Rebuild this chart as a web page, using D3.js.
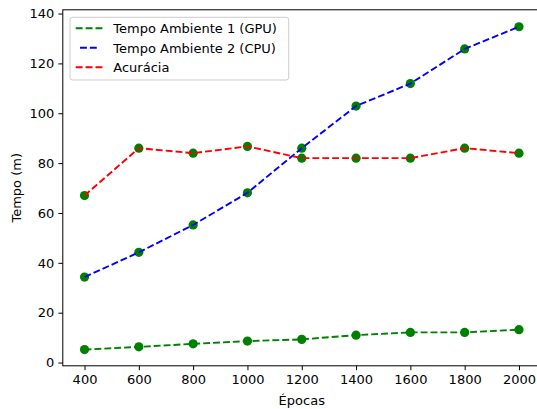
<!DOCTYPE html>
<html lang="pt">
<head>
<meta charset="utf-8">
<title>Tempo x Épocas</title>
<script src="https://d3js.org/d3.v7.min.js"></script>
<style>
    body { margin: 0; background: #fff; }
    svg text { font-family: "DejaVu Sans", sans-serif; font-size: 13px; fill: #000; }
    .domain, .tick line { stroke: #000; }
</style>
</head>
<body>
<div id="chart"></div>
<script>
    const epocas = [400, 600, 800, 1000, 1200, 1400, 1600, 1800, 2000];
    const tempoGpu = [5.2, 6.3, 7.5, 8.6, 9.3, 11.0, 12.1, 12.1, 13.2];
    const tempoCpu = [34.3, 44.2, 55.2, 68.1, 86, 102.9, 111.9, 125.8, 134.7];
    const acuracia = [67, 86, 84, 86.7, 82, 82, 82, 86, 84];
    const xTicks = [400, 600, 800, 1000, 1200, 1400, 1600, 1800, 2000];
    const yTicks = [0, 20, 40, 60, 80, 100, 120, 140];

    const series = [
        {name: "Tempo Ambiente 1 (GPU)", values: tempoGpu, color: "#008000"},
        {name: "Tempo Ambiente 2 (CPU)", values: tempoCpu, color: "#0000ff"},
        {name: "Acurácia", values: acuracia, color: "#ff0000"}
    ];

    const width = 537, height = 409;
    const mLeft = 62.8, mRight = 540.7, mTop = 9.8, mBottom = 365.8;

    const x = d3.scaleLinear().domain([320, 2080]).range([mLeft, mRight]);
    const y = d3.scaleLinear().domain([-1.3, 141.5]).range([mBottom, mTop]);

    const svg = d3.select("#chart").append("svg")
        .attr("width", width)
        .attr("height", height);

    // spines
    svg.append("rect")
        .attr("x", mLeft).attr("y", mTop)
        .attr("width", mRight - mLeft).attr("height", mBottom - mTop)
        .attr("fill", "none").attr("stroke", "#000").attr("stroke-width", 1);

    const xAxis = svg.append("g")
        .attr("transform", "translate(0," + mBottom + ")")
        .call(d3.axisBottom(x).tickValues(xTicks).tickSize(4.4).tickPadding(4.8).tickFormat(d3.format("d")));
    const yAxis = svg.append("g")
        .attr("transform", "translate(" + mLeft + ",0)")
        .call(d3.axisLeft(y).tickValues(yTicks).tickSize(4.4).tickPadding(4.2).tickFormat(d3.format("d")));
    [xAxis, yAxis].forEach(a => {
        a.attr("font-family", null).attr("font-size", null);
        a.select(".domain").remove();
    });

    // markers first, dashed lines on top
    series.forEach(s => {
        svg.append("g").selectAll("circle")
            .data(s.values)
            .join("circle")
            .attr("cx", (d, i) => x(epocas[i]))
            .attr("cy", d => y(d))
            .attr("r", 4.6)
            .attr("fill", "#008000");
    });

    const line = d3.line()
        .x((d, i) => x(epocas[i]))
        .y(d => y(d));

    series.forEach(s => {
        svg.append("path")
            .attr("d", line(s.values))
            .attr("fill", "none")
            .attr("stroke", s.color)
            .attr("stroke-width", 1.9)
            .attr("stroke-dasharray", "6.9,3");
    });

    // legend
    const lg = svg.append("g");
    lg.append("rect")
        .attr("x", 70).attr("y", 17.3)
        .attr("width", 218.7).attr("height", 62.7)
        .attr("rx", 2.5)
        .attr("fill", "#fff").attr("fill-opacity", 0.8)
        .attr("stroke", "#cccccc").attr("stroke-width", 1);

    series.forEach((s, i) => {
        const cy = 28.3 + i * 19.5;
        const x0 = i === 1 ? 80 : 75.7;
        const x1 = i === 1 ? 97.7 : 102.4;
        lg.append("line")
            .attr("x1", x0).attr("x2", x1)
            .attr("y1", cy).attr("y2", cy)
            .attr("stroke", s.color)
            .attr("stroke-width", 1.9)
            .attr("stroke-dasharray", "6.9,3");
        lg.append("text")
            .attr("x", 113.3).attr("y", cy + 4.7)
            .text(s.name);
    });

    // axis labels
    svg.append("text")
        .attr("x", (mLeft + mRight) / 2).attr("y", 404.5)
        .attr("text-anchor", "middle")
        .text("Épocas");
    svg.append("text")
        .attr("transform", "translate(20.5," + (mTop + mBottom) / 2 + ") rotate(-90)")
        .attr("text-anchor", "middle")
        .text("Tempo (m)");
</script>
</body>
</html>
